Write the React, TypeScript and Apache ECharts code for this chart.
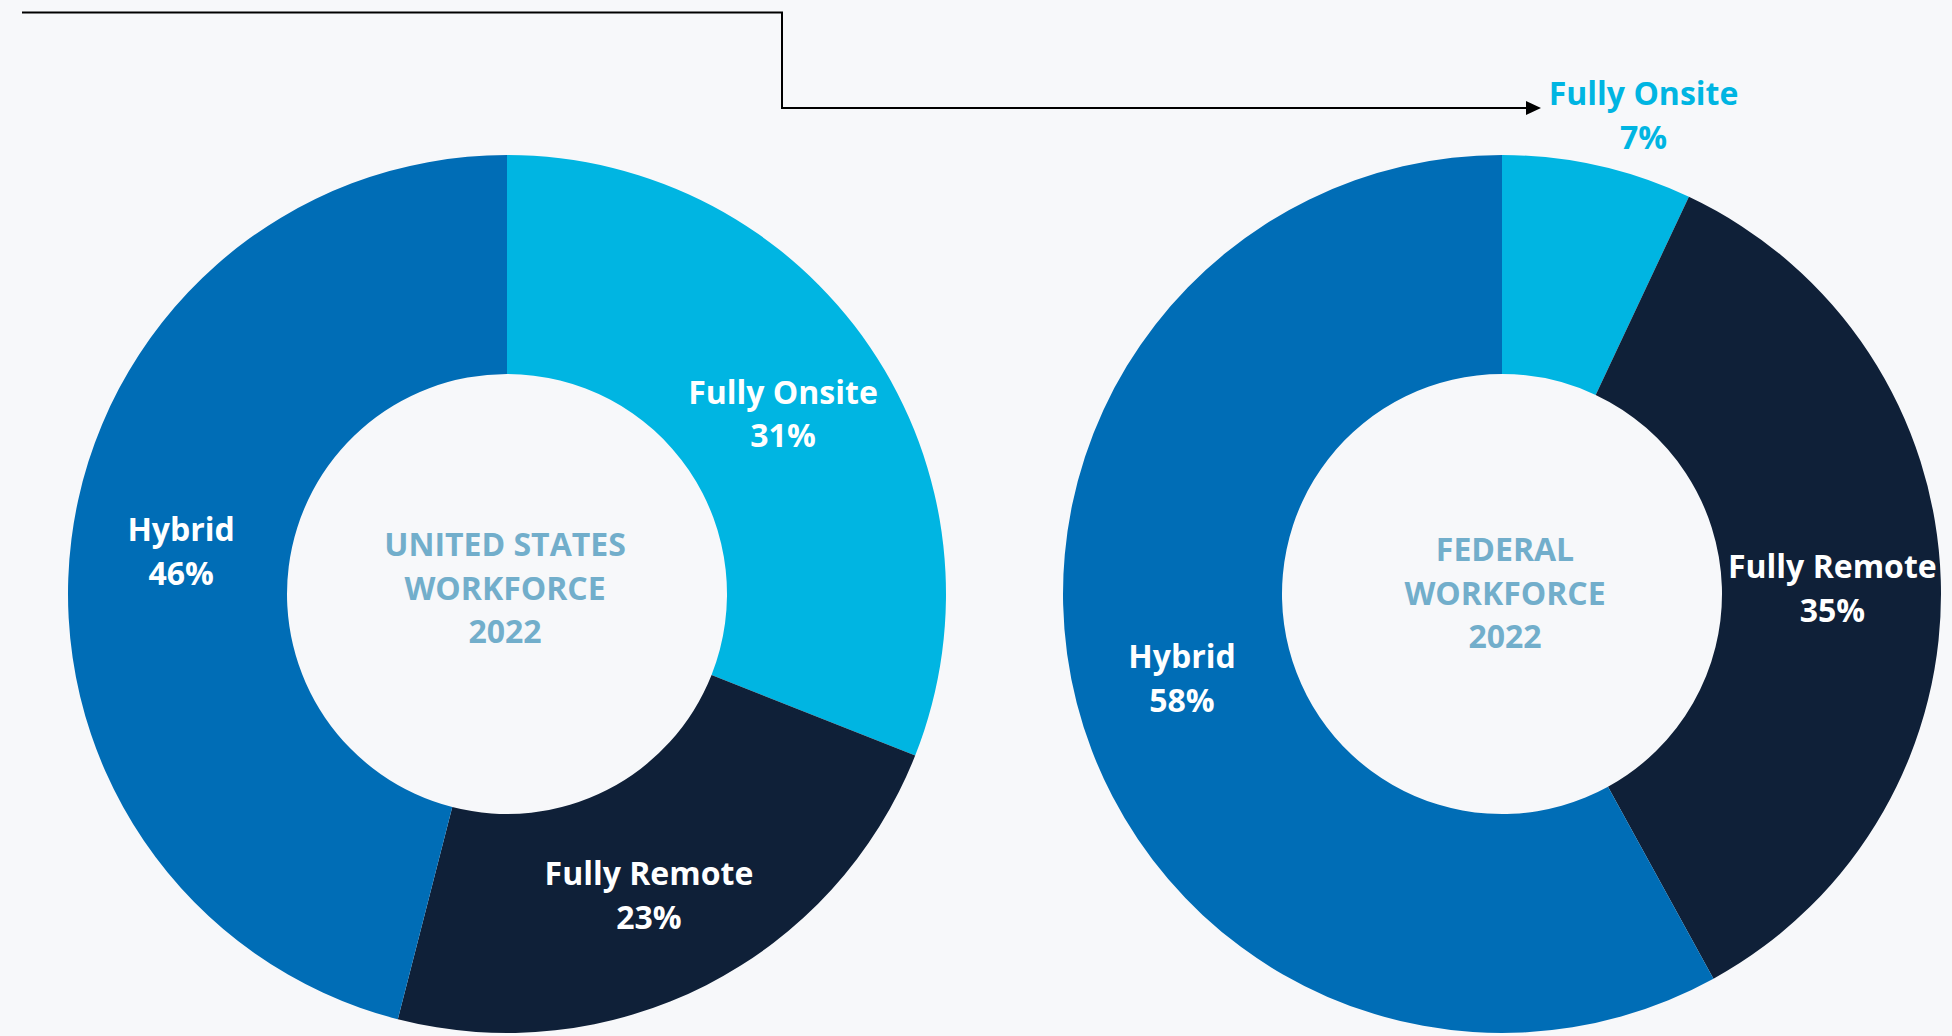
import React, { useEffect, useRef } from "react";
import * as echarts from "echarts";

const categories = ["Fully Onsite", "Fully Remote", "Hybrid"];
const usValues = [31, 23, 46];
const fedValues = [7, 35, 58];
const colors = ["#00B5E2", "#0F2038", "#006DB6"];
const usCenterText = ["UNITED STATES", "WORKFORCE", "2022"];
const fedCenterText = ["FEDERAL", "WORKFORCE", "2022"];

const usLabelOffsets = [[1, 6], [-9, 4], [4, -2]];
const fedLabelOffsets = [[69, -155], [-2, 4], [2, 1]];

const FONT = "'Open Sans', 'Noto Sans', sans-serif";

export default function App() {
  const ref = useRef<HTMLDivElement>(null);
  useEffect(() => {
    if (!ref.current) return;
    const chart = echarts.init(ref.current, null, { renderer: "svg" });
    const labelBase = {
      show: true,
      position: "inside",
      formatter: (p: any) => `${p.name}\n${p.value}%`,
      color: "#FFFFFF",
      fontFamily: FONT,
      fontWeight: "bold",
      fontSize: 32,
      lineHeight: 43.5,
    };
    const mkData = (vals: number[], offsets: number[][], special?: boolean) =>
      vals.map((v, i) => {
        const d: any = {
          name: categories[i],
          value: v,
          itemStyle: { color: colors[i] },
          label: { offset: offsets[i] },
        };
        if (special && i === 0) {
          d.label.color = "#00B5E2";
        }
        return d;
      });
    chart.setOption({
      animation: false,
      backgroundColor: "#F7F8FA",
      series: [
        {
          type: "pie",
          center: [507, 594],
          radius: [220, 439],
          startAngle: 90,
          clockwise: true,
          label: labelBase,
          labelLine: { show: false },
          emphasis: { disabled: true },
          data: mkData(usValues, usLabelOffsets),
        },
        {
          type: "pie",
          center: [1502, 594],
          radius: [220, 439],
          startAngle: 90,
          clockwise: true,
          label: labelBase,
          labelLine: { show: false },
          emphasis: { disabled: true },
          data: mkData(fedValues, fedLabelOffsets, true),
        },
      ],
      graphic: [
        {
          type: "polyline",
          shape: { points: [[22, 12.5], [782, 12.5], [782, 108], [1528, 108]] },
          style: { stroke: "#000000", lineWidth: 2, fill: null },
        },
        {
          type: "polygon",
          shape: { points: [[1541, 108], [1526, 101], [1526, 115]] },
          style: { fill: "#000000" },
        },
        {
          type: "text",
          x: 505,
          y: 587,
          style: {
            text: usCenterText.join("\n"),
            textAlign: "center",
            textVerticalAlign: "middle",
            fill: "#72AECB",
            font: `bold 32px ${FONT}`,
            lineHeight: 43.5,
          },
        },
        {
          type: "text",
          x: 1505,
          y: 592,
          style: {
            text: fedCenterText.join("\n"),
            textAlign: "center",
            textVerticalAlign: "middle",
            fill: "#72AECB",
            font: `bold 32px ${FONT}`,
            lineHeight: 43.5,
          },
        },
      ],
    });
    return () => chart.dispose();
  }, []);
  return (
    <div
      ref={ref}
      style={{ position: "fixed", left: 0, top: 0, width: 1952, height: 1036 }}
    />
  );
}
